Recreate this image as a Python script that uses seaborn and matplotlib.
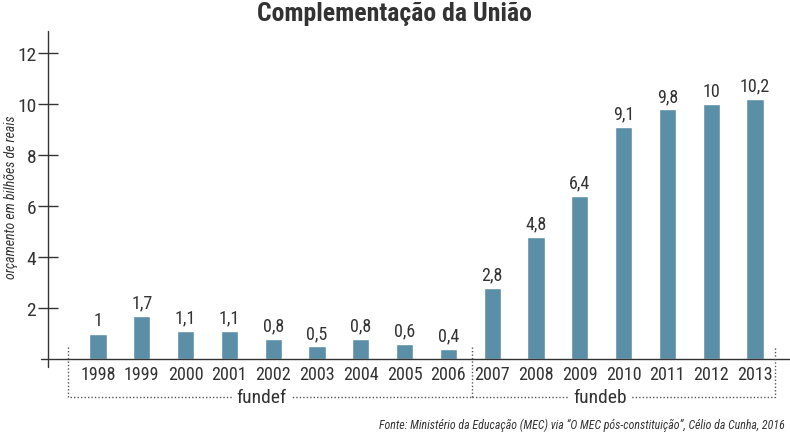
import matplotlib
matplotlib.use("Agg")
import matplotlib.pyplot as plt
import seaborn as sns
import pandas as pd
from matplotlib import font_manager

years = ["1998", "1999", "2000", "2001", "2002", "2003", "2004", "2005",
         "2006", "2007", "2008", "2009", "2010", "2011", "2012", "2013"]
values = [1, 1.7, 1.1, 1.1, 0.8, 0.5, 0.8, 0.6, 0.4, 2.8, 4.8, 6.4, 9.1, 9.8, 10, 10.2]
value_labels = ["1", "1,7", "1,1", "1,1", "0,8", "0,5", "0,8", "0,6", "0,4",
                "2,8", "4,8", "6,4", "9,1", "9,8", "10", "10,2"]
yticks = [2, 4, 6, 8, 10, 12]
groups = ["fundef", "fundeb"]

sns.set_theme(style="white")
avail = {f.name for f in font_manager.fontManager.ttflist}
fam = [f for f in ["Roboto Condensed", "Liberation Sans Narrow", "Open Sans Condensed", "Noto Sans"] if f in avail]
fam = (fam[:1] or ["DejaVu Sans"]) + ["DejaVu Sans"]
plt.rcParams["font.family"] = fam

TXT = "#333333"
BAR = "#5b8fa7"

df = pd.DataFrame({"ano": years, "valor": values})
fig = plt.figure(figsize=(7.9, 4.35), dpi=100)
ax = fig.add_axes([0.0608, 0.1724, 0.9392, 0.754])
sns.barplot(data=df, x="ano", y="valor", color=BAR, width=0.39, saturation=1, ax=ax)

ax.set_xlim(-1.14, 15.8)
ax.set_ylim(0, 12.86)
for s in ax.spines.values():
    s.set_visible(False)
ax.set_yticks(yticks)
ax.set_yticklabels([str(t) for t in yticks], fontsize=14, color=TXT)
ax.tick_params(axis="y", direction="inout", length=15, width=1, color=TXT, pad=1, left=True)
ax.tick_params(axis="x", length=0, pad=4, labelsize=13, labelcolor=TXT)
ax.set_xlabel("")
ax.set_ylabel("")
fig.text(0.014, 0.547, "orçamento em bilhões de reais", rotation=90, ha="center", va="center",
         fontsize=10, style="italic", color=TXT)

# axes lines
ax.plot([-0.009, 1], [0, 0], transform=ax.transAxes, color=TXT, lw=1, clip_on=False)
ax.plot([0, 0], [-0.025, 1], transform=ax.transAxes, color=TXT, lw=1, clip_on=False)

for i, (v, lab) in enumerate(zip(values, value_labels)):
    ax.annotate(lab, (i, v), xytext=(0, 3), textcoords="offset points",
                ha="center", va="bottom", fontsize=13, color=TXT)

# bracket lines
dot = dict(color="#555555", lw=1, ls=(0, (1, 1.5)), clip_on=False)
ytop, ybot = 0.47, -1.49
ax.plot([-0.68, -0.68, 8.54], [ytop, ybot, ybot], **dot)
ax.plot([8.54, 8.54], [ytop, ybot], **dot)
ax.plot([8.54, 15.46, 15.46], [ybot, ybot, ytop], **dot)
for xpos, g in zip([3.74, 11.46], groups):
    ax.text(xpos, ybot, g, ha="center", va="center", fontsize=14, color=TXT,
            bbox=dict(facecolor="white", edgecolor="none", pad=3), clip_on=False)

fig.text(0.499, 0.968, "Complementação da União", ha="center", va="center",
         fontsize=18.5, fontweight="bold", color=TXT)
fig.text(0.994, 0.023, "Fonte: Ministério da Educação (MEC) via “O MEC pós-constituição”, Célio da Cunha, 2016",
         ha="right", va="center", fontsize=8.6, style="italic", color=TXT)

fig.savefig("out.png", dpi=100)
